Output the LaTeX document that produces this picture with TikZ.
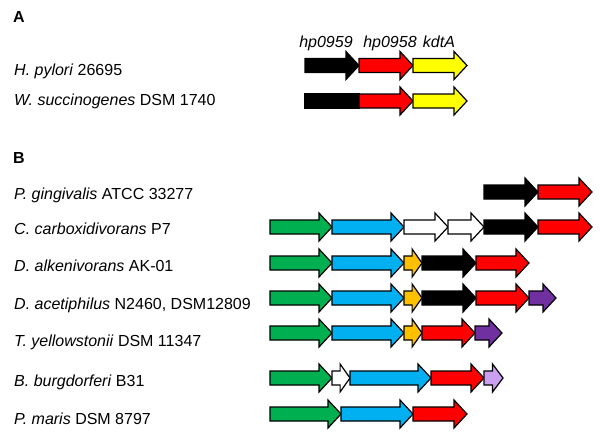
\documentclass[tikz,border=0pt]{standalone}
\usepackage{fontspec}
\setmainfont{Liberation Sans}
\usepackage{tikz}

\definecolor{genegreen}{RGB}{0,176,80}
\definecolor{geneblue}{RGB}{0,176,240}
\definecolor{geneorange}{RGB}{255,192,0}
\definecolor{genered}{RGB}{255,0,0}
\definecolor{geneyellow}{RGB}{255,255,0}
\definecolor{genepurple}{RGB}{112,48,160}
\definecolor{genelilac}{RGB}{204,160,240}

% gene arrow: start x, tip x, row y, fill colour
\newcommand{\genearrow}[4]{%
  \pgfmathsetmacro{\hl}{min(13,0.55*(#2-#1))}%
  \draw[genebox,fill=#4] (#1,{#3-7}) -- ({#2-\hl},{#3-7}) -- ({#2-\hl},{#3-14})
    -- (#2,#3) -- ({#2-\hl},{#3+14}) -- ({#2-\hl},{#3+7}) -- (#1,{#3+7}) -- cycle;}

\begin{document}
\begin{tikzpicture}[x=1pt,y=-1pt,
    genebox/.style={draw=black,line width=1.2pt,line join=miter},
    strain/.style={anchor=base west,inner sep=0pt,font=\fontsize{16}{18}\selectfont},
    genename/.style={anchor=base,inner sep=0pt,font=\fontsize{16}{18}\selectfont\itshape},
    panel/.style={anchor=base west,inner sep=0pt,font=\fontsize{16}{18}\selectfont\bfseries}]
        \useasboundingbox (0,0) rectangle (600,434);

        % panel A
        \node[panel] (panelA) at (13,22) {A};
        \node[strain] (hpylori) at (14,75) {\textit{H. pylori} 26695};
        \node[strain] (wsucc) at (14,105) {\textit{W. succinogenes} DSM 1740};

        \node[genename] (hp0959) at (326,47) {hp0959};
        \node[genename] (hp0958) at (390,47) {hp0958};
        \node[genename] (kdtA) at (439,47) {kdtA};

        \genearrow{305}{359}{65.5}{black}
        \genearrow{359}{413}{65.5}{genered}
        \genearrow{413}{467}{65.5}{geneyellow}

        \draw[genebox,fill=black] (305,94) rectangle (359,108);
        \genearrow{359}{413}{101}{genered}
        \genearrow{413}{467}{101}{geneyellow}

        % panel B
        \node[panel] (panelB) at (13,163) {B};
        \node[strain] (pging) at (14,199) {\textit{P. gingivalis} ATCC 33277};
        \node[strain] (ccarb) at (14,234) {\textit{C. carboxidivorans} P7};
        \node[strain] (dalk) at (14,271) {\textit{D. alkenivorans} AK-01};
        \node[strain] (dacet) at (14,309) {\textit{D. acetiphilus} N2460, DSM12809};
        \node[strain] (tyell) at (14,346) {\textit{T. yellowstonii} DSM 11347};
        \node[strain] (bburg) at (14,386) {\textit{B. burgdorferi} B31};
        \node[strain] (pmaris) at (14,424) {\textit{P. maris} DSM 8797};

        \genearrow{484}{538}{192}{black}
        \genearrow{538}{592}{192}{genered}

        \genearrow{270}{332}{227}{genegreen}
        \genearrow{332}{404}{227}{geneblue}
        \genearrow{404}{448}{227}{white}
        \genearrow{448}{484}{227}{white}
        \genearrow{484}{538}{227}{black}
        \genearrow{538}{592}{227}{genered}

        \genearrow{270}{332}{263}{genegreen}
        \genearrow{332}{404}{263}{geneblue}
        \genearrow{404}{422}{263}{geneorange}
        \genearrow{422}{476}{263}{black}
        \genearrow{476}{529}{263}{genered}

        \genearrow{270}{332}{298}{genegreen}
        \genearrow{332}{404}{298}{geneblue}
        \genearrow{404}{422}{298}{geneorange}
        \genearrow{422}{476}{298}{black}
        \genearrow{476}{529}{298}{genered}
        \genearrow{529}{556}{298}{genepurple}

        \genearrow{270}{332}{333}{genegreen}
        \genearrow{332}{404}{333}{geneblue}
        \genearrow{404}{422}{333}{geneorange}
        \genearrow{422}{475}{333}{genered}
        \genearrow{475}{502}{333}{genepurple}

        \genearrow{270}{332}{378}{genegreen}
        \genearrow{332}{350}{378}{white}
        \genearrow{350}{431}{378}{geneblue}
        \genearrow{431}{484}{378}{genered}
        \genearrow{484}{503}{378}{genelilac}

        \genearrow{270}{341}{414}{genegreen}
        \genearrow{341}{413}{414}{geneblue}
        \genearrow{413}{467}{414}{genered}
\end{tikzpicture}
\end{document}
